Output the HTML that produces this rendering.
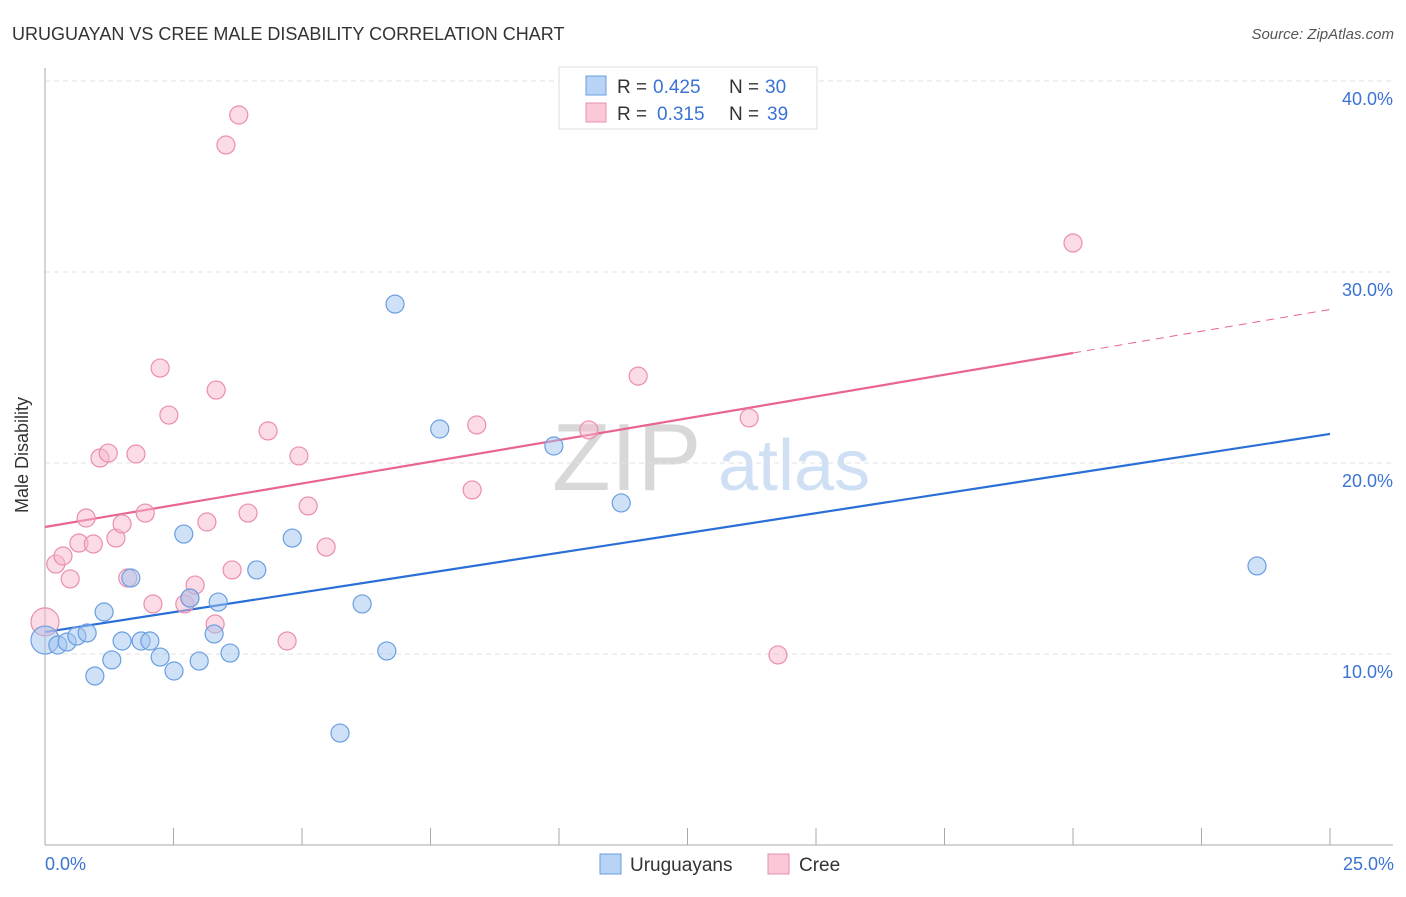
<!DOCTYPE html>
<html><head><meta charset="utf-8"><style>
body{margin:0;background:#fff;font-family:"Liberation Sans",sans-serif}
svg text{font-family:"Liberation Sans",sans-serif}
</style></head><body>
<svg id="c" width="1406" height="892" xmlns="http://www.w3.org/2000/svg">
<text x="12" y="40" font-size="18" fill="#333">URUGUAYAN VS CREE MALE DISABILITY CORRELATION CHART</text>
<text x="1394" y="39" font-size="15" fill="#555" text-anchor="end" font-style="italic">Source: ZipAtlas.com</text>
<g>
<text x="552" y="490" font-size="96" fill="#d8d8d8" font-family="Liberation Serif">ZIP</text>
<text x="718" y="490" font-size="72" fill="#cfe0f4">atlas</text>
</g>
<g id="grid"></g><g id="axes"></g><g id="lines"></g><g id="pts"></g>
<text x="28" y="455" font-size="18" fill="#333" text-anchor="middle" transform="rotate(-90 28 455)">Male Disability</text>
<text x="45" y="870" font-size="18" fill="#3b73d4">0.0%</text>
<text x="1394" y="870" font-size="18" fill="#3b73d4" text-anchor="end">25.0%</text>
<g>
<rect x="559" y="67" width="258" height="62" fill="#fff" stroke="#ddd"/>
<rect x="586" y="76" width="20" height="19" fill="#b8d3f5" stroke="#6a9ee0"/>
<rect x="586" y="103" width="20" height="19" fill="#fac8d7" stroke="#ea8fab"/>
<text x="617" y="93" font-size="19" fill="#333">R =</text>
<text x="653" y="93" font-size="19" fill="#3b73d4">0.425</text>
<text x="729" y="93" font-size="19" fill="#333">N =</text>
<text x="765" y="93" font-size="19" fill="#3b73d4">30</text>
<text x="617" y="120" font-size="19" fill="#333">R =</text>
<text x="657" y="120" font-size="19" fill="#3b73d4">0.315</text>
<text x="729" y="120" font-size="19" fill="#333">N =</text>
<text x="767" y="120" font-size="19" fill="#3b73d4">39</text>
</g>
<g>
<rect x="600" y="854" width="21" height="20" fill="#b8d3f5" stroke="#6a9ee0"/>
<text x="630" y="871" font-size="19" fill="#333">Uruguayans</text>
<rect x="768" y="854" width="21" height="20" fill="#fac8d7" stroke="#ea8fab"/>
<text x="799" y="871" font-size="19" fill="#333">Cree</text>
</g>
</svg>
<script>
const yTicks=[10,20,30,40];
const yTickLabels=["10.0%","20.0%","30.0%","40.0%"];
const xTicks=[0,2.5,5,7.5,10,12.5,15,17.5,20,22.5,25];
const blueX=[0,0.25,0.43,0.62,0.82,0.97,1.15,1.30,1.50,1.67,1.87,2.04,2.24,2.51,2.70,2.82,3.00,3.29,3.37,3.60,4.12,4.81,5.74,6.17,6.65,6.81,7.68,9.90,11.21,23.58];
const blueY=[10.73,10.47,10.63,10.94,11.10,8.85,12.20,9.69,10.68,13.98,10.68,10.68,9.84,9.11,16.28,12.93,9.63,11.05,12.72,10.05,14.40,16.07,5.86,12.62,10.16,28.32,21.78,20.89,17.91,14.61];
const pinkX=[0,0.21,0.35,0.49,0.66,0.80,0.94,1.07,1.23,1.38,1.50,1.61,1.77,1.95,2.10,2.24,2.41,2.72,2.82,2.92,3.15,3.31,3.33,3.52,3.64,3.77,3.95,4.34,4.71,4.94,5.12,5.47,8.31,8.40,10.58,11.54,13.70,14.26,20.0];
const pinkY=[11.68,14.71,15.13,13.93,15.81,17.12,15.76,20.26,20.52,16.07,16.81,13.98,20.47,17.38,12.62,24.97,22.51,12.62,12.93,13.61,16.91,11.57,23.82,36.65,14.40,38.22,17.38,21.68,10.68,20.37,17.75,15.60,18.59,21.99,21.73,24.55,22.36,9.95,31.52];
const blueTrend=[11.15,0.4148];
const pinkTrend=[16.65,0.4555];
const NS="http://www.w3.org/2000/svg";
const X=v=>45+v*51.4, Y=v=>654-(v-10)*19.1;
function mk(t,a,p){const e=document.createElementNS(NS,t);for(const k in a)e.setAttribute(k,a[k]);p.appendChild(e);return e;}
const g=document.getElementById('grid'),ax=document.getElementById('axes'),ln=document.getElementById('lines'),pt=document.getElementById('pts');
yTicks.forEach((t,i)=>{
 let l=mk('line',{x1:45,x2:1393,y1:Y(t),y2:Y(t),stroke:'#e2e2e2','stroke-dasharray':'5,4'},g);
 
 
 let tx=mk('text',{x:1393,y:Y(t)+24,'font-size':18,fill:'#3b73d4','text-anchor':'end'},g);
 tx.textContent=yTickLabels[i];
 
 
});
let ya=mk('line',{x1:45,x2:45,y1:68,y2:845,stroke:'#aaa'},ax);


let xa=mk('line',{x1:45,x2:1393,y1:845,y2:845,stroke:'#aaa'},ax);


xTicks.forEach(t=>{
 let l=mk('line',{x1:X(t),x2:X(t),y1:828,y2:845,stroke:'#aaa'},ax);
 
 
});
let bl=mk('line',{x1:X(0),y1:Y(blueTrend[0]),x2:X(25),y2:Y(blueTrend[0]+25*blueTrend[1]),stroke:'#2a6fd6','stroke-width':2.2},ln);


let pl=mk('line',{x1:X(0),y1:Y(pinkTrend[0]),x2:X(20),y2:Y(pinkTrend[0]+20*pinkTrend[1]),stroke:'#e8658f','stroke-width':2.2},ln);


let pd=mk('line',{x1:X(20),y1:Y(pinkTrend[0]+20*pinkTrend[1]),x2:X(25),y2:Y(pinkTrend[0]+25*pinkTrend[1]),stroke:'#e8658f','stroke-width':1,'stroke-dasharray':'8,6'},ln);


pinkX.forEach((v,i)=>{
 let c=mk('circle',{cx:X(v),cy:Y(pinkY[i]),r:i==0?14:9,fill:'rgba(248,184,204,0.5)',stroke:'#ea8fab','stroke-width':1.2},pt);
 
 
});
blueX.forEach((v,i)=>{
 let c=mk('circle',{cx:X(v),cy:Y(blueY[i]),r:i==0?14:9,fill:'rgba(160,196,240,0.5)',stroke:'#6a9ee0','stroke-width':1.2},pt);
 
 
});
</script>
</body></html>
